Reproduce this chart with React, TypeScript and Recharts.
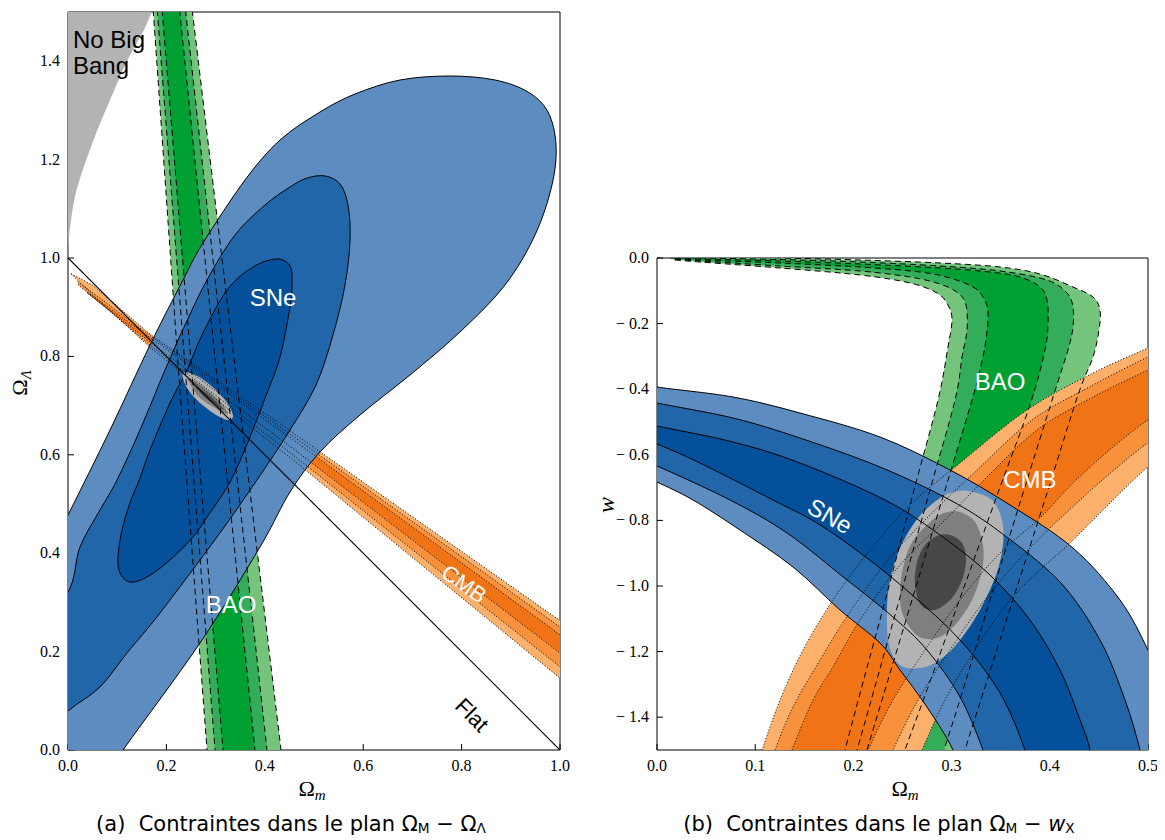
import React from 'react';
import { ScatterChart, Scatter, XAxis, YAxis } from 'recharts';

type Pt = { x: number; y: number };
const P = (a: number[][]): Pt[] => a.map(([x, y]) => ({ x, y }));
const rev = (a: Pt[]) => a.slice().reverse();

// ---------- Panel (a): Omega_m - Omega_Lambda ----------
const A_X_TICKS = [0, 0.2, 0.4, 0.6, 0.8, 1.0];
const A_Y_TICKS = [0, 0.2, 0.4, 0.6, 0.8, 1.0, 1.2, 1.4];

const A_NO_BIG_BANG = P([[-0.05, 1.0], [0, 1.0], [0.004, 1.06], [0.018, 1.14], [0.05, 1.235], [0.085, 1.32], [0.12, 1.4], [0.155, 1.465], [0.178, 1.52], [0.18, 1.6], [-0.05, 1.6]]);

const A_BAO_L3 = P([[0.1717, 1.524], [0.2252, 0.762], [0.2841, -0.02]]);
const A_BAO_R3 = P([[0.25, 1.524], [0.3415, 0.762], [0.4354, -0.02]]);
const A_BAO_L2 = P([[0.1797, 1.524], [0.2392, 0.762], [0.3004, -0.02]]);
const A_BAO_R2 = P([[0.2366, 1.524], [0.3205, 0.762], [0.4067, -0.02]]);
const A_BAO_L1 = P([[0.1896, 1.524], [0.2522, 0.762], [0.3167, -0.02]]);
const A_BAO_R1 = P([[0.2248, 1.524], [0.3024, 0.762], [0.3821, -0.02]]);

const A_CMB_T3 = P([[0.006, 0.968], [0.05, 0.945], [0.167, 0.845], [0.457, 0.645], [1.0, 0.263], [1.05, 0.228]]);
const A_CMB_B3 = P([[0.006, 0.968], [0.05, 0.925], [0.167, 0.818], [0.457, 0.59], [1.0, 0.146], [1.05, 0.105]]);
const A_CMB_T2 = P([[0.02, 0.952], [0.167, 0.842], [0.457, 0.638], [1.0, 0.25], [1.05, 0.214]]);
const A_CMB_B2 = P([[0.02, 0.946], [0.167, 0.823], [0.457, 0.6], [1.0, 0.169], [1.05, 0.131]]);
const A_CMB_T1 = P([[0.04, 0.93], [0.167, 0.838], [0.457, 0.631], [1.0, 0.234], [1.05, 0.198]]);
const A_CMB_B1 = P([[0.04, 0.928], [0.167, 0.829], [0.457, 0.613], [1.0, 0.197], [1.05, 0.162]]);

const A_SNE_3 = P([[0.5122, 1.2967], [0.5833, 1.3333], [0.6748, 1.3618], [0.7764, 1.3699], [0.8679, 1.3618], [0.935, 1.3374], [0.9756, 1.2967], [0.9919, 1.2297], [0.9837, 1.1484], [0.9492, 1.0467], [0.8882, 0.9451], [0.7967, 0.8496], [0.6951, 0.7622], [0.5935, 0.6809], [0.5122, 0.6057], [0.4512, 0.5244], [0.3902, 0.4126], [0.2683, 0.2175], [0.1118, 0.0], [-0.0163, -0.1829], [-0.1179, -0.2642], [-0.189, -0.2439], [-0.2093, -0.1016], [-0.1585, 0.122], [-0.0772, 0.3252], [0.0, 0.4776], [0.0854, 0.6504], [0.1667, 0.8232], [0.2337, 0.9553], [0.2744, 1.0305], [0.3598, 1.1585], [0.4309, 1.2398]]);
const A_SNE_2 = P([[0.5224, 1.1667], [0.5528, 1.1504], [0.5691, 1.1077], [0.5732, 1.0366], [0.563, 0.9451], [0.5386, 0.8435], [0.5041, 0.7419], [0.4512, 0.6504], [0.3841, 0.5488], [0.3028, 0.4329], [0.187, 0.2785], [0.1199, 0.1972], [0.065, 0.128], [0.0, 0.0793], [-0.0772, 0.0102], [-0.1382, -0.0407], [-0.189, -0.0407], [-0.2093, 0.0203], [-0.1687, 0.122], [-0.0772, 0.2439], [0.0, 0.3211], [0.0244, 0.4126], [0.065, 0.4878], [0.0996, 0.5488], [0.1463, 0.6504], [0.1972, 0.7724], [0.2378, 0.8638], [0.2825, 0.9553], [0.3394, 1.0467], [0.4004, 1.1077], [0.4512, 1.1443], [0.4858, 1.1626]]);
const A_SNE_1 = P([[0.4248, 0.998], [0.4512, 0.9837], [0.4553, 0.9492], [0.4512, 0.9004], [0.4309, 0.7988], [0.4045, 0.7256], [0.3699, 0.6362], [0.3293, 0.5447], [0.2785, 0.4675], [0.2541, 0.4329], [0.2073, 0.3862], [0.1606, 0.3516], [0.126, 0.3415], [0.1057, 0.3598], [0.1016, 0.3923], [0.1098, 0.4472], [0.126, 0.502], [0.1463, 0.5528], [0.1667, 0.6098], [0.2073, 0.7053], [0.2419, 0.7724], [0.2744, 0.8476], [0.3232, 0.935], [0.376, 0.9817]]);

const A_COMB_3 = P([[0.2337, 0.7663], [0.2541, 0.7642], [0.2785, 0.75], [0.3049, 0.7276], [0.3252, 0.7033], [0.3354, 0.6789], [0.3252, 0.6707], [0.3049, 0.6789], [0.2785, 0.6972], [0.2541, 0.7195], [0.2378, 0.7439]]);
const A_COMB_2 = P([[0.2439, 0.7561], [0.2785, 0.7358], [0.313, 0.7033], [0.3252, 0.6829], [0.2988, 0.6951], [0.2642, 0.7195]]);
const A_COMB_1 = P([[0.2541, 0.7439], [0.2886, 0.7195], [0.3171, 0.6911], [0.2846, 0.7114]]);

const A_FLAT = P([[0, 1], [1, 0]]);

const A_LABELS = [
  { x: 0.0102, y: 1.4268, text: 'No Big' },
  { x: 0.0102, y: 1.374, text: 'Bang' },
  { x: 0.4167, y: 0.9187, text: 'SNe' },
  { x: 0.3313, y: 0.2967, text: 'BAO' },
  { x: 0.8049, y: 0.3374, text: 'CMB' },
  { x: 0.8211, y: 0.0711, text: 'Flat' },
];

// ---------- Panel (b): Omega_m - w ----------
const B_X_TICKS = [0, 0.1, 0.2, 0.3, 0.4, 0.5];
const B_Y_TICKS = [0, -0.2, -0.4, -0.6, -0.8, -1.0, -1.2, -1.4];

const B_BAO_O3 = P([[0.0081, 0.003], [0.0438, 0.003], [0.1253, 0], [0.2067, -0.0061], [0.2882, -0.0152], [0.3493, -0.0274], [0.39, -0.0488], [0.4236, -0.0884], [0.444, -0.1189], [0.4511, -0.1585], [0.4501, -0.2195], [0.444, -0.3018], [0.4287, -0.4177], [0.3982, -0.7073], [0.3656, -1.0122], [0.333, -1.3171], [0.3136, -1.5], [0.3065, -1.5762]]);
const B_BAO_O2 = P([[0.0132, 0], [0.0438, 0], [0.1253, -0.0046], [0.2067, -0.0122], [0.2882, -0.0244], [0.3493, -0.0396], [0.3971, -0.0671], [0.4175, -0.1067], [0.4236, -0.1494], [0.4236, -0.2104], [0.4185, -0.2805], [0.4033, -0.4238], [0.3737, -0.7073], [0.3422, -1.0122], [0.3116, -1.3171], [0.2923, -1.5], [0.2841, -1.5762]]);
const B_BAO_O1 = P([[0.0183, -0.0015], [0.0438, -0.003], [0.1253, -0.0091], [0.2067, -0.0183], [0.2882, -0.0305], [0.3391, -0.0427], [0.3697, -0.0579], [0.39, -0.0884], [0.3971, -0.128], [0.3982, -0.1982], [0.3951, -0.2805], [0.3798, -0.4482], [0.3483, -0.7073], [0.3116, -1.0122], [0.2749, -1.3171], [0.2525, -1.5], [0.2434, -1.5762]]);
const B_BAO_I1 = P([[0.0183, -0.003], [0.0438, -0.0061], [0.1253, -0.0152], [0.2067, -0.0274], [0.2678, -0.0427], [0.2984, -0.061], [0.3218, -0.0884], [0.332, -0.1189], [0.3371, -0.1646], [0.335, -0.25], [0.3289, -0.3415], [0.3208, -0.4329], [0.2933, -0.7073], [0.2627, -1.0122], [0.2322, -1.3171], [0.2138, -1.5], [0.2067, -1.5762]]);
const B_BAO_I2 = P([[0.0183, -0.0046], [0.0438, -0.0091], [0.1253, -0.0244], [0.2067, -0.0396], [0.2576, -0.0579], [0.2882, -0.0793], [0.3065, -0.1067], [0.3147, -0.1433], [0.3157, -0.2195], [0.3106, -0.3018], [0.3035, -0.4329], [0.278, -0.7073], [0.2495, -1.0122], [0.221, -1.3171], [0.2037, -1.5], [0.1965, -1.5762]]);
const B_BAO_I3 = P([[0.0183, -0.0061], [0.0438, -0.0122], [0.1253, -0.0305], [0.2067, -0.0518], [0.2576, -0.0762], [0.2851, -0.1067], [0.2963, -0.1433], [0.3004, -0.189], [0.2963, -0.2713], [0.2862, -0.4329], [0.2617, -0.7073], [0.2352, -1.0122], [0.2077, -1.3171], [0.1914, -1.5], [0.1843, -1.5762]]);

const B_CMB_T3 = P([[0.0998, -1.561], [0.1069, -1.5], [0.1253, -1.3476], [0.1487, -1.1951], [0.1792, -1.0427], [0.2169, -0.8902], [0.2576, -0.753], [0.3086, -0.625], [0.3768, -0.4634], [0.444, -0.3506], [0.5, -0.2744], [0.5224, -0.2439]]);
const B_CMB_T2 = P([[0.1151, -1.561], [0.1202, -1.5], [0.1385, -1.3689], [0.166, -1.2256], [0.1965, -1.0793], [0.2352, -0.9207], [0.278, -0.7835], [0.3238, -0.6524], [0.3819, -0.4939], [0.444, -0.3872], [0.5, -0.3018], [0.5224, -0.2774]]);
const B_CMB_T1 = P([[0.1314, -1.561], [0.1375, -1.5], [0.1589, -1.3476], [0.1792, -1.247], [0.2067, -1.1037], [0.2475, -0.936], [0.2933, -0.7988], [0.336, -0.6677], [0.387, -0.5244], [0.444, -0.4238], [0.5, -0.3415], [0.5224, -0.311]]);
const B_CMB_B1 = P([[0.5224, -0.4634], [0.5, -0.4939], [0.4644, -0.5762], [0.4236, -0.686], [0.39, -0.7927], [0.3493, -0.8994], [0.3086, -1.0427], [0.2729, -1.1951], [0.2403, -1.3476], [0.2149, -1.5], [0.2067, -1.561]]);
const B_CMB_B2 = P([[0.5224, -0.5305], [0.5, -0.564], [0.4715, -0.6311], [0.4308, -0.7378], [0.3798, -0.8841], [0.334, -1.0427], [0.2984, -1.1951], [0.2658, -1.3476], [0.2403, -1.5], [0.2322, -1.561]]);
const B_CMB_B3 = P([[0.5224, -0.6006], [0.5, -0.6372], [0.4644, -0.7378], [0.4206, -0.8689], [0.39, -0.9512], [0.3595, -1.0427], [0.3238, -1.1951], [0.2933, -1.3476], [0.2699, -1.5], [0.2617, -1.561]]);

const B_SNE_U3 = P([[-0.0173, -0.378], [0, -0.3933], [0.0774, -0.4238], [0.1456, -0.4726], [0.2271, -0.5457], [0.2984, -0.6463], [0.3595, -0.753], [0.4236, -0.8841], [0.4715, -1.0427], [0.5, -1.1951], [0.5173, -1.3171]]);
const B_SNE_CORNER = P([[0.56, -1.35], [0.56, -1.7]]);
const B_SNE_U2 = P([[-0.0173, -0.4268], [0, -0.4421], [0.0774, -0.4878], [0.1456, -0.5488], [0.2271, -0.6372], [0.2984, -0.7378], [0.3493, -0.8354], [0.4104, -0.9878], [0.4511, -1.1646], [0.4766, -1.3476], [0.4919, -1.5], [0.5, -1.622]]);
const B_SNE_U1 = P([[-0.0173, -0.497], [0, -0.5122], [0.0774, -0.561], [0.1456, -0.625], [0.2322, -0.7378], [0.2882, -0.8445], [0.3391, -0.9665], [0.3798, -1.1037], [0.4104, -1.2561], [0.4308, -1.4085], [0.4409, -1.5], [0.446, -1.622]]);
const B_SNE_L1 = P([[-0.0173, -0.5518], [0, -0.5671], [0.0438, -0.625], [0.1181, -0.7378], [0.1629, -0.8079], [0.2098, -0.9055], [0.2576, -1.0213], [0.3086, -1.1646], [0.3493, -1.3262], [0.3747, -1.5], [0.3849, -1.622]]);
const B_SNE_L2 = P([[-0.0173, -0.6189], [0, -0.6341], [0.0743, -0.7378], [0.1324, -0.8384], [0.1935, -0.9817], [0.2403, -1.0945], [0.2749, -1.1951], [0.3086, -1.3384], [0.332, -1.5], [0.3442, -1.622]]);
const B_SNE_L3 = P([[-0.0173, -0.6585], [0, -0.6829], [0.0367, -0.7378], [0.0845, -0.8293], [0.1385, -0.9421], [0.1864, -1.0732], [0.2271, -1.1738], [0.2475, -1.2561], [0.2749, -1.3689], [0.3014, -1.5], [0.3136, -1.622]]);

const B_COMB_3 = P([[0.3218, -0.7134], [0.3411, -0.7378], [0.3513, -0.7988], [0.3523, -0.875], [0.3452, -0.9665], [0.3289, -1.0732], [0.3086, -1.1646], [0.2882, -1.2256], [0.2678, -1.25], [0.2475, -1.2409], [0.2363, -1.1799], [0.2342, -1.0732], [0.2373, -0.9817], [0.2475, -0.8841], [0.2658, -0.7927], [0.2882, -0.7317], [0.3065, -0.7104]]);
const B_COMB_2 = P([[0.3086, -0.7744], [0.3238, -0.8049], [0.332, -0.875], [0.331, -0.9512], [0.3208, -1.0427], [0.3035, -1.1189], [0.2851, -1.1585], [0.2658, -1.1524], [0.2505, -1.0884], [0.2475, -1.0122], [0.2525, -0.9207], [0.2627, -0.8537], [0.2831, -0.7927], [0.2963, -0.7744]]);
const B_COMB_1 = P([[0.2984, -0.8445], [0.3106, -0.8689], [0.3147, -0.9207], [0.3106, -0.9817], [0.3004, -1.0366], [0.2831, -1.0732], [0.2688, -1.0579], [0.2627, -0.997], [0.2648, -0.9268], [0.2729, -0.875], [0.2851, -0.8476]]);

const B_LABELS = [
  { x: 0.3493, y: -0.378, text: 'BAO' },
  { x: 0.3798, y: -0.6768, text: 'CMB' },
  { x: 0.1762, y: -0.7866, text: 'SNe' },
];

// ---------- colours ----------
const C = {
  blue3: '#5c8cc0', blue2: '#2166a8', blue1: '#05509b',
  green3: '#74c47c', green2: '#34ad5a', green1: '#00a033',
  orange3: '#fbb06c', orange2: '#f7913c', orange1: '#f07416',
  gray3: '#b3b3b3', gray2: '#7f7f7f', gray1: '#474747',
};

// ---------- drawing helpers ----------
function chain(pts: Pt[], start: boolean, smooth: boolean, loop: boolean): string {
  const n = pts.length;
  if (!n) return '';
  const f = (v: number) => v.toFixed(2);
  let d = (start ? 'M' : 'L') + f(pts[0].x) + ',' + f(pts[0].y);
  if (!smooth || n < 3) {
    for (let i = 1; i < n; i++) d += 'L' + f(pts[i].x) + ',' + f(pts[i].y);
    return d;
  }
  const get = (i: number) => (loop ? pts[(i + n) % n] : pts[Math.max(0, Math.min(n - 1, i))]);
  const last = loop ? n : n - 1;
  for (let i = 0; i < last; i++) {
    const p0 = get(i - 1), p1 = get(i), p2 = get(i + 1), p3 = get(i + 2);
    const c1x = p1.x + (p2.x - p0.x) / 6, c1y = p1.y + (p2.y - p0.y) / 6;
    const c2x = p2.x - (p3.x - p1.x) / 6, c2y = p2.y - (p3.y - p1.y) / 6;
    d += `C${f(c1x)},${f(c1y)} ${f(c2x)},${f(c2y)} ${f(p2.x)},${f(p2.y)}`;
  }
  return d;
}

function PolyPath(props: any) {
  const { points, pf, ps, psw, pdash, closed, smooth, breaks } = props;
  if (!points || points.length === 0) return null;
  const br: number[] = breaks && breaks.length ? breaks : [0];
  let d = '';
  br.forEach((s, k) => {
    const e = k + 1 < br.length ? br[k + 1] : points.length;
    d += chain(points.slice(s, e), k === 0, !!smooth, !!closed && br.length === 1);
  });
  if (closed) d += 'Z';
  return (
    <path d={d} fill={pf || 'none'} stroke={ps || 'none'} strokeWidth={psw || 1}
      strokeDasharray={pdash} strokeLinejoin="round" />
  );
}

const Empty = () => <g />;

type Sty = { fill?: string; stroke?: string; sw?: number; dash?: string; closed?: boolean; smooth?: boolean; breaks?: number[] };

function series(key: string, data: Pt[], s: Sty) {
  return (
    <Scatter key={key} data={data} xAxisId="x" yAxisId="y" isAnimationActive={false}
      shape={Empty} lineType="joint" legendType="none"
      line={<PolyPath pf={s.fill} ps={s.stroke} psw={s.sw} pdash={s.dash}
        closed={s.closed} smooth={s.smooth} breaks={s.breaks} />} />
  );
}

type LabStyle = { anchor: string; base: string; color: string; angle: number; size: number };

function labelSeries(key: string, data: any[], styles: Record<string, LabStyle>) {
  const Mark = (p: any) => {
    const t = p.payload || p;
    const s = styles[t.text];
    if (!s || p.cx == null) return <g />;
    return (
      <text x={p.cx} y={p.cy} fill={s.color} fontSize={s.size}
        fontFamily="'Liberation Sans', Arial, sans-serif" textAnchor={s.anchor}
        dominantBaseline={s.base}
        transform={s.angle ? `rotate(${s.angle} ${p.cx} ${p.cy})` : undefined}>{t.text}</text>
    );
  };
  return <Scatter key={key} data={data} xAxisId="x" yAxisId="y" isAnimationActive={false} shape={Mark} legendType="none" />;
}

const fmt = (v: number) => (v < -1e-9 ? '\u2212\u2005' : '') + Math.abs(v).toFixed(1);
const serif = "'Liberation Serif', 'Times New Roman', serif";
const sans = "'DejaVu Sans', sans-serif";

function TickText(props: any) {
  const { x, y, payload, side } = props;
  const label = fmt(payload.value);
  if (side === 'bottom') {
    return <text x={x} y={y + 10} textAnchor="middle" fontFamily={serif} fontSize={16} fill="#000">{label}</text>;
  }
  return <text x={x} y={y + 5} textAnchor="end" fontFamily={serif} fontSize={16} fill="#000">{label}</text>;
}

function Axes(xDomain: number[], yDomain: number[], xTicks: number[], yTicks: number[], yWidth: number) {
  const ax = { stroke: '#000', strokeWidth: 1 };
  return [
    <XAxis key="xb" xAxisId="x" type="number" dataKey="x" domain={xDomain} ticks={xTicks} allowDataOverflow
      interval={0} orientation="bottom" height={40} tickSize={-6} tickMargin={17}
      tick={(p: any) => <TickText {...p} side="bottom" />} axisLine={ax} tickLine={ax} />,
    <XAxis key="xt" xAxisId="xt" type="number" domain={xDomain} ticks={xTicks} allowDataOverflow
      interval={0} orientation="top" height={2} tickSize={-6} tick={false} axisLine={ax} tickLine={ax} />,
    <YAxis key="yl" yAxisId="y" type="number" dataKey="y" domain={yDomain} ticks={yTicks} allowDataOverflow
      interval={0} orientation="left" width={yWidth} tickSize={-6} tickMargin={14}
      tick={(p: any) => <TickText {...p} side="left" />} axisLine={ax} tickLine={ax} />,
    <YAxis key="yr" yAxisId="yr" type="number" domain={yDomain} ticks={yTicks} allowDataOverflow
      interval={0} orientation="right" width={4} tickSize={-6} tick={false} axisLine={ax} tickLine={ax} />,
  ];
}

const A_STYLES: Record<string, LabStyle> = {
  'No Big': { anchor: 'start', base: 'alphabetic', color: '#000', angle: 0, size: 24 },
  'Bang': { anchor: 'start', base: 'alphabetic', color: '#000', angle: 0, size: 24 },
  'SNe': { anchor: 'middle', base: 'central', color: '#fff', angle: 0, size: 24 },
  'BAO': { anchor: 'middle', base: 'central', color: '#fff', angle: 0, size: 24 },
  'CMB': { anchor: 'middle', base: 'central', color: '#fff', angle: 35, size: 22 },
  'Flat': { anchor: 'middle', base: 'central', color: '#000', angle: 45, size: 22 },
};
const B_STYLES: Record<string, LabStyle> = {
  'BAO': { anchor: 'middle', base: 'central', color: '#fff', angle: 0, size: 24 },
  'CMB': { anchor: 'middle', base: 'central', color: '#fff', angle: 0, size: 24 },
  'SNe': { anchor: 'middle', base: 'central', color: '#fff', angle: 30, size: 24 },
};

const MARGIN = { top: 12, right: 16, bottom: 0, left: 10 };

function PanelA() {
  const bao3 = [...A_BAO_L3, ...rev(A_BAO_R3)];
  const bao2 = [...A_BAO_L2, ...rev(A_BAO_R2)];
  const bao1 = [...A_BAO_L1, ...rev(A_BAO_R1)];
  const cmb3 = [...A_CMB_T3, ...rev(A_CMB_B3)];
  const cmb2 = [...A_CMB_T2, ...rev(A_CMB_B2)];
  const cmb1 = [...A_CMB_T1, ...rev(A_CMB_B1)];
  const dash = '6 4';
  const dot = '1 2';
  return (
    <ScatterChart width={572} height={792} margin={MARGIN}>
      {series('nbb', A_NO_BIG_BANG, { fill: C.gray3, closed: true, smooth: true, breaks: [0, 1, 9, 10] })}
      {series('bao3', bao3, { fill: C.green3, closed: true })}
      {series('bao2', bao2, { fill: C.green2, closed: true })}
      {series('bao1', bao1, { fill: C.green1, closed: true })}
      {series('cmb3', cmb3, { fill: C.orange3, closed: true })}
      {series('cmb2', cmb2, { fill: C.orange2, closed: true })}
      {series('cmb1', cmb1, { fill: C.orange1, closed: true })}
      {series('sne3', A_SNE_3, { fill: C.blue3, stroke: '#000', closed: true, smooth: true })}
      {series('sne2', A_SNE_2, { fill: C.blue2, stroke: '#000', closed: true, smooth: true })}
      {series('sne1', A_SNE_1, { fill: C.blue1, stroke: '#000', closed: true, smooth: true })}
      {series('comb3', A_COMB_3, { fill: C.gray3, closed: true, smooth: true })}
      {series('comb2', A_COMB_2, { fill: C.gray2, closed: true, smooth: true })}
      {series('comb1', A_COMB_1, { fill: C.gray1, closed: true, smooth: true })}
      {series('bl3', A_BAO_L3, { stroke: '#000', dash })}
      {series('br3', A_BAO_R3, { stroke: '#000', dash })}
      {series('bl2', A_BAO_L2, { stroke: '#000', dash })}
      {series('br2', A_BAO_R2, { stroke: '#000', dash })}
      {series('bl1', A_BAO_L1, { stroke: '#000', dash })}
      {series('br1', A_BAO_R1, { stroke: '#000', dash })}
      {series('ct3', A_CMB_T3, { stroke: '#000', dash: dot })}
      {series('cb3', A_CMB_B3, { stroke: '#000', dash: dot })}
      {series('ct2', A_CMB_T2, { stroke: '#000', dash: dot })}
      {series('cb2', A_CMB_B2, { stroke: '#000', dash: dot })}
      {series('ct1', A_CMB_T1, { stroke: '#000', dash: dot })}
      {series('cb1', A_CMB_B1, { stroke: '#000', dash: dot })}
      {series('flat', A_FLAT, { stroke: '#000', sw: 1.2 })}
      {labelSeries('labels', A_LABELS, A_STYLES)}
      {Axes([0, 1], [0, 1.5], A_X_TICKS, A_Y_TICKS, 50)}
    </ScatterChart>
  );
}

function PanelB() {
  const bao = (o: Pt[], i: Pt[]) => [...o, ...rev(i)];
  const cmb = (t: Pt[], b: Pt[]) => [...t, ...b];
  const dash = '6 4';
  const dot = '1 2';
  const sne3 = [...B_SNE_U3, ...B_SNE_CORNER, ...rev(B_SNE_L3)];
  const sne2 = [...B_SNE_U2, ...rev(B_SNE_L2)];
  const sne1 = [...B_SNE_U1, ...rev(B_SNE_L1)];
  const nU3 = B_SNE_U3.length;
  return (
    <ScatterChart width={581} height={546} margin={MARGIN}>
      {series('bao3', bao(B_BAO_O3, B_BAO_I3), { fill: C.green3, closed: true, smooth: true, breaks: [0, B_BAO_O3.length] })}
      {series('bao2', bao(B_BAO_O2, B_BAO_I2), { fill: C.green2, closed: true, smooth: true, breaks: [0, B_BAO_O2.length] })}
      {series('bao1', bao(B_BAO_O1, B_BAO_I1), { fill: C.green1, closed: true, smooth: true, breaks: [0, B_BAO_O1.length] })}
      {series('cmb3', cmb(B_CMB_T3, B_CMB_B3), { fill: C.orange3, closed: true, smooth: true, breaks: [0, B_CMB_T3.length] })}
      {series('cmb2', cmb(B_CMB_T2, B_CMB_B2), { fill: C.orange2, closed: true, smooth: true, breaks: [0, B_CMB_T2.length] })}
      {series('cmb1', cmb(B_CMB_T1, B_CMB_B1), { fill: C.orange1, closed: true, smooth: true, breaks: [0, B_CMB_T1.length] })}
      {series('sne3', sne3, { fill: C.blue3, closed: true, smooth: true, breaks: [0, nU3, nU3 + 1, nU3 + 2] })}
      {series('sne2', sne2, { fill: C.blue2, closed: true, smooth: true, breaks: [0, B_SNE_U2.length] })}
      {series('sne1', sne1, { fill: C.blue1, closed: true, smooth: true, breaks: [0, B_SNE_U1.length] })}
      {series('comb3', B_COMB_3, { fill: C.gray3, closed: true, smooth: true })}
      {series('comb2', B_COMB_2, { fill: C.gray2, closed: true, smooth: true })}
      {series('comb1', B_COMB_1, { fill: C.gray1, closed: true, smooth: true })}
      {series('su3', B_SNE_U3, { stroke: '#000', smooth: true })}
      {series('su2', B_SNE_U2, { stroke: '#000', smooth: true })}
      {series('su1', B_SNE_U1, { stroke: '#000', smooth: true })}
      {series('sl1', B_SNE_L1, { stroke: '#000', smooth: true })}
      {series('sl2', B_SNE_L2, { stroke: '#000', smooth: true })}
      {series('sl3', B_SNE_L3, { stroke: '#000', smooth: true })}
      {series('bo3', B_BAO_O3, { stroke: '#000', dash, smooth: true })}
      {series('bo2', B_BAO_O2, { stroke: '#000', dash, smooth: true })}
      {series('bo1', B_BAO_O1, { stroke: '#000', dash, smooth: true })}
      {series('bi1', B_BAO_I1, { stroke: '#000', dash, smooth: true })}
      {series('bi2', B_BAO_I2, { stroke: '#000', dash, smooth: true })}
      {series('bi3', B_BAO_I3, { stroke: '#000', dash, smooth: true })}
      {series('ct3', B_CMB_T3, { stroke: '#000', dash: dot, smooth: true })}
      {series('ct2', B_CMB_T2, { stroke: '#000', dash: dot, smooth: true })}
      {series('ct1', B_CMB_T1, { stroke: '#000', dash: dot, smooth: true })}
      {series('cb1', B_CMB_B1, { stroke: '#000', dash: dot, smooth: true })}
      {series('cb2', B_CMB_B2, { stroke: '#000', dash: dot, smooth: true })}
      {series('cb3', B_CMB_B3, { stroke: '#000', dash: dot, smooth: true })}
      {labelSeries('labels', B_LABELS, B_STYLES)}
      {Axes([0, 0.5], [-1.5, 0], B_X_TICKS, B_Y_TICKS, 60)}
    </ScatterChart>
  );
}

function Title({ cx, cy, rotate, children, font, size }: any) {
  return (
    <div style={{
      position: 'absolute', left: cx - 300, top: cy - 15, width: 600, height: 30, lineHeight: '30px',
      textAlign: 'center', fontFamily: font, fontSize: size, color: '#000', whiteSpace: 'nowrap',
      transform: rotate ? `rotate(${rotate}deg)` : undefined,
    }}>{children}</div>
  );
}

export default function App() {
  const sub: React.CSSProperties = { fontSize: '0.68em', verticalAlign: '-0.25em' };
  const csub: React.CSSProperties = { fontSize: '0.65em', verticalAlign: '-0.18em' };
  return (
    <div style={{ position: 'relative', width: 1149, height: 832 }}>
      <div style={{ position: 'absolute', left: 0, top: -10 }}><PanelA /></div>
      <div style={{ position: 'absolute', left: 579, top: 236 }}><PanelB /></div>
      <Title cx={12} cy={375} rotate={-90} font={serif} size={22}>Ω<span style={{ ...sub, fontStyle: 'italic' }}>Λ</span></Title>
      <Title cx={304} cy={781} font={serif} size={22}>Ω<span style={{ ...sub, fontStyle: 'italic' }}>m</span></Title>
      <Title cx={598} cy={497} rotate={-90} font={serif} size={24}><span style={{ fontStyle: 'italic' }}>w</span></Title>
      <Title cx={897} cy={781} font={serif} size={22}>Ω<span style={{ ...sub, fontStyle: 'italic' }}>m</span></Title>
      <Title cx={283} cy={816} font={sans} size={21}>(a)&nbsp;&nbsp;Contraintes dans le plan Ω<span style={csub}>M</span> − Ω<span style={csub}>Λ</span></Title>
      <Title cx={871} cy={816} font={sans} size={21}>(b)&nbsp;&nbsp;Contraintes dans le plan Ω<span style={csub}>M</span> − <span style={{ fontStyle: 'italic' }}>w</span><span style={csub}>X</span></Title>
    </div>
  );
}
